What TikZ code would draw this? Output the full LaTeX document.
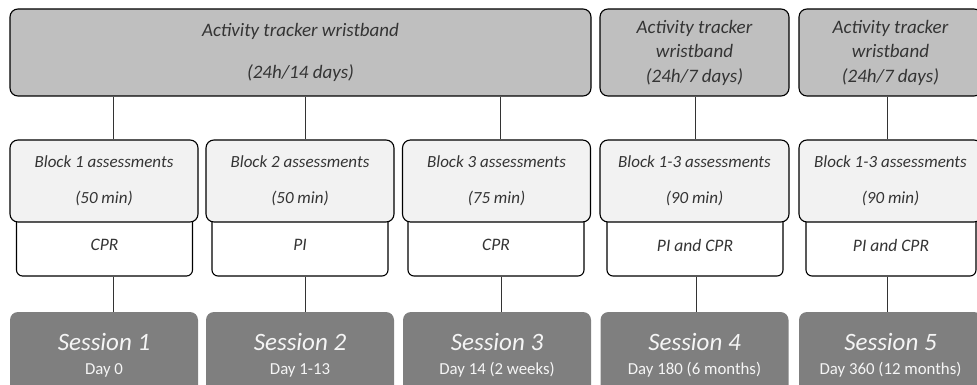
\documentclass[tikz,border=0pt]{standalone}
\usepackage{fontspec}
\setmainfont{Carlito}
\usepackage{xcolor}
\usetikzlibrary{positioning, calc}
\definecolor{trackgray}{RGB}{191,191,191}
\definecolor{blockgray}{RGB}{242,242,242}
\definecolor{sessgray}{RGB}{127,127,127}
\definecolor{textgray}{RGB}{52,52,52}
\definecolor{sesstext}{RGB}{245,245,245}
\newcommand{\sesstitle}{\fontsize{25}{24}\selectfont\itshape}

\begin{document}
\begin{tikzpicture}[
  x=1pt, y=-1pt,
  track/.style={draw, rounded corners=8pt, fill=trackgray, line width=1.1pt,
                align=center, text=textgray, inner sep=0pt,
                font=\fontsize{19}{24.5}\selectfont\itshape,
                minimum height=87pt},
  block/.style={draw, rounded corners=8pt, fill=blockgray, line width=1.1pt,
                align=center, text=textgray, inner sep=0pt,
                font=\fontsize{17}{24}\selectfont\itshape,
                minimum width=188pt, minimum height=82pt},
  method/.style={draw, rounded corners=6pt, fill=white, line width=1.1pt,
                 text=textgray, inner sep=0pt,
                 font=\fontsize{17.5}{24}\selectfont\itshape,
                 minimum width=176pt, minimum height=62pt},
  sess/.style={rounded corners=8pt, fill=sessgray, text=sesstext,
               align=center, inner sep=0pt,
               font=\fontsize{16.8}{24}\selectfont,
               minimum width=188pt, minimum height=86pt},
  link/.style={line width=0.8pt, black!80},
]
\useasboundingbox (0,0) rectangle (977,385);

% WRISTBAND
\node[track, minimum width=581pt] (top)  at (300.5,52.5) {Activity tracker wristband\\[17pt](24h/14 days)};
\node[track, minimum width=189pt] (top4) at (694.5,52.5) {Activity tracker\\wristband\\(24h/7 days)};
\node[track, minimum width=183pt] (top5) at (890.5,52.5) {Activity tracker\\wristband\\(24h/7 days)};

% METHODS (drawn first, blocks lie on top)
\node[method] (m1) at (104.5,245) {CPR};
\node[method] (m2) at (300,245)   {PI};
\node[method] (m3) at (496,245)   {CPR};
\node[method] (m4) at (695,245)   {PI and CPR};
\node[method, minimum width=170pt] (m5) at (891,245) {PI and CPR};

% ASSESSMENT BLOCKS
\node[block] (b1) at (104,181)   {Block 1 assessments\\[12pt](50 min)};
\node[block] (b2) at (300,181)   {Block 2 assessments\\[12pt](50 min)};
\node[block] (b3) at (496.5,181) {Block 3 assessments\\[12pt](75 min)};
\node[block, minimum width=189pt] (b4) at (694.5,181) {Block 1-3 assessments\\[12pt](90 min)};
\node[block, minimum width=183pt] (b5) at (890.5,181) {Block 1-3 assessments\\[12pt](90 min)};

% SESSIONS
\node[sess] (s1) at (104,355)   {{\sesstitle Session 1}\\Day 0};
\node[sess] (s2) at (300,355)   {{\sesstitle Session 2}\\Day 1-13};
\node[sess] (s3) at (497,355)   {{\sesstitle Session 3}\\Day 14 (2 weeks)};
\node[sess] (s4) at (694.5,355) {{\sesstitle Session 4}\\Day 180 (6 months)};
\node[sess, minimum width=183pt] (s5) at (890.5,355) {{\sesstitle Session 5}\\Day 360 (12 months)};

% connectors
\draw[link] ([xshift=9pt]b1.north) -- ([xshift=9pt]b1.north |- top.south);
\draw[link] ([xshift=5pt]b2.north) -- ([xshift=5pt]b2.north |- top.south);
\draw[link] ([xshift=4pt]b3.north) -- ([xshift=4pt]b3.north |- top.south);
\draw[link] ([xshift=1pt]b4.north) -- ([xshift=1pt]b4.north |- top4.south);
\draw[link] ([xshift=-3pt]b5.north) -- ([xshift=-3pt]b5.north |- top5.south);
\draw[link] ([xshift=9pt]m1.south) -- ([xshift=9pt]m1.south |- s1.north);
\draw[link] ([xshift=5pt]m2.south) -- ([xshift=5pt]m2.south |- s2.north);
\draw[link] ([xshift=5pt]m3.south) -- ([xshift=5pt]m3.south |- s3.north);
\draw[link] ([xshift=1pt]m4.south) -- ([xshift=1pt]m4.south |- s4.north);
\draw[link] ([xshift=-4pt]m5.south) -- ([xshift=-4pt]m5.south |- s5.north);

\end{tikzpicture}
\end{document}
